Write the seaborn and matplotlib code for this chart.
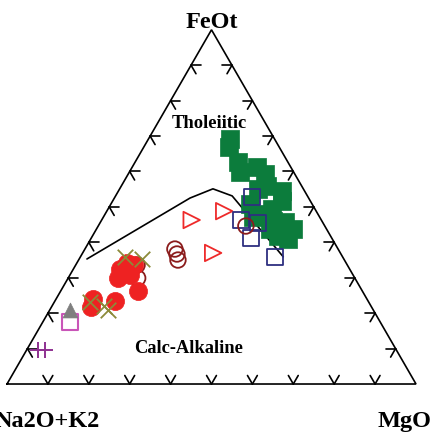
import numpy as np
import pandas as pd
import matplotlib
matplotlib.use("Agg")
import matplotlib.pyplot as plt
import seaborn as sns

# AFM compositions in percent: Na2O+K2O (A), FeOt (F), MgO (M)
green_A = [10.9, 12.3, 12.1, 13.0, 8.2, 7.2, 8.4, 5.5, 6.9, 10.5, 13.7, 16.4, 12.0, 9.2, 8.2, 10.9, 13.8, 15.2, 11.0, 12.8]
green_F = [69.3, 66.8, 62.7, 59.9, 61.3, 59.3, 55.9, 54.5, 51.7, 49.4, 48.0, 47.1, 46.0, 45.7, 43.8, 40.9, 43.8, 50.8, 55.1, 41.8]
green_M = [19.8, 20.9, 25.2, 27.1, 30.5, 33.5, 35.7, 40.0, 41.4, 40.1, 38.3, 36.5, 42.0, 45.1, 48.0, 48.2, 42.4, 34.0, 33.9, 45.4]

navy_A = [13.7, 19.7, 15.8, 19.7, 16.5]
navy_F = [52.8, 46.3, 45.5, 41.2, 35.9]
navy_M = [33.5, 34.0, 38.7, 39.1, 47.6]

tri_A = [31.7, 22.5, 31.1]
tri_F = [46.3, 48.8, 37.0]
tri_M = [22.0, 28.7, 31.9]

ring_A = [39.9, 40.1, 40.7, 19.3, 51.4, 53.1]
ring_F = [38.1, 36.7, 35.0, 44.6, 33.6, 29.9]
ring_M = [22.0, 23.2, 24.3, 36.1, 15.0, 17.0]

dot_A = [56.1, 53.6, 52.1, 58.0, 54.5, 54.8, 67.0, 68.7, 61.9]
dot_F = [32.5, 34.2, 33.6, 29.9, 30.8, 26.3, 24.0, 21.7, 23.4]
dot_M = [11.4, 12.2, 14.3, 12.1, 14.7, 18.9, 9.0, 9.6, 14.7]

cross_A = [53.1, 49.3, 68.1, 65.3, 64.8]
cross_F = [35.9, 35.3, 23.2, 22.0, 20.9]
cross_M = [11.0, 15.4, 8.7, 12.7, 14.3]

gray_A, gray_F, gray_M = [74.1], [20.9], [5.0]
pink_A, pink_F, pink_M = [75.9], [17.5], [6.6]

plus_A = [87.6, 85.9]
plus_F = [9.6, 9.6]
plus_M = [2.8, 4.5]

# Tholeiitic / calc-alkaline boundary
line_A = [62.8, 29.0, 22.1, 18.4, 14.5]
line_F = [35.3, 52.5, 55.1, 53.1, 35.9]
line_M = [1.9, 18.5, 22.8, 28.5, 49.6]

tick_values = [10, 20, 30, 40, 50, 60, 70, 80, 90]

H = np.sqrt(3) / 2


def to_xy(A, F, M):
    A, F, M = (np.asarray(v, dtype=float) for v in (A, F, M))
    tot = A + F + M
    F = 100 * F / tot
    M = 100 * M / tot
    return M + F / 2, F * H


sns.set_theme(style="white")
plt.rcParams["font.family"] = ["Liberation Serif", "DejaVu Serif"]

fig = plt.figure(figsize=(4.36, 4.39), dpi=100)
ax = fig.add_axes([0, 0, 1, 1])
ax.set_axis_off()
ax.set_xlim(-1.711, 104.89)
ax.set_ylim(-13.20, 94.13)

# Triangle frame
lw = 1.2
ax.plot([0, 100, 50, 0], [0, 0, 100 * H, 0], color="black", lw=lw,
        solid_joinstyle="miter", zorder=1)

# Chevron ticks, arms parallel to the two other sides
L = 2.4
dirs = {"bl": (-0.5 * L, -H * L), "br": (0.5 * L, -H * L),
        "ul": (-0.5 * L, H * L), "ur": (0.5 * L, H * L),
        "r": (L, 0), "l": (-L, 0)}
for t in tick_values:
    # bottom side
    x0, y0 = t, 0
    for d in ("ul", "ur"):
        ax.plot([x0, x0 + dirs[d][0]], [y0, y0 + dirs[d][1]], color="black", lw=lw, zorder=1)
    # left side
    x0, y0 = t / 2, t * H
    for d in ("r", "br"):
        ax.plot([x0, x0 + dirs[d][0]], [y0, y0 + dirs[d][1]], color="black", lw=lw, zorder=1)
    # right side
    x0, y0 = 100 - t / 2, t * H
    for d in ("l", "bl"):
        ax.plot([x0, x0 + dirs[d][0]], [y0, y0 + dirs[d][1]], color="black", lw=lw, zorder=1)

# Boundary curve
lx, ly = to_xy(line_A, line_F, line_M)
sns.lineplot(x=lx, y=ly, sort=False, color="black", lw=1.2, ax=ax, zorder=2)


def scatter(A, F, M, marker, size, color, filled=True, lw=1.3, z=3):
    x, y = to_xy(A, F, M)
    df = pd.DataFrame({"x": x, "y": y})
    if marker in ("x", "+"):
        sns.scatterplot(data=df, x="x", y="y", marker=marker, s=size, color=color,
                        linewidth=lw, ax=ax, zorder=z, legend=False)
    elif filled:
        sns.scatterplot(data=df, x="x", y="y", marker=marker, s=size, color=color,
                        edgecolor=color, linewidth=0.5, ax=ax, zorder=z, legend=False)
    else:
        sns.scatterplot(data=df, x="x", y="y", marker=marker, s=size, color=color,
                        facecolor="none", edgecolor=color, linewidth=lw, ax=ax,
                        zorder=z, legend=False)


scatter(green_A, green_F, green_M, "s", 160, "#0c7c3c", z=3)
scatter(tri_A, tri_F, tri_M, ">", 140, "#ee2a2a", filled=False, z=4)
scatter(navy_A, navy_F, navy_M, "s", 130, "#2e2f80", filled=False, z=5)
scatter(ring_A, ring_F, ring_M, "o", 125, "#8b1c1c", filled=False, z=6)
scatter(dot_A, dot_F, dot_M, "o", 170, "#ee2222", z=7)
scatter(cross_A, cross_F, cross_M, "x", 125, "#8c8a3a", lw=1.3, z=8)
scatter(pink_A, pink_F, pink_M, "s", 125, "#c955b8", filled=False, lw=1.5, z=9)
scatter(gray_A, gray_F, gray_M, "^", 115, "#7f7f7f", z=10)
scatter(plus_A, plus_F, plus_M, "+", 125, "#8e3090", lw=1.4, z=11)

# Labels
bold = dict(fontweight="bold", color="black", zorder=20)
ax.text(50.1, 87.3, "FeOt", ha="center", va="baseline", fontsize=17.5, **bold)
ax.text(97.3, -10.27, "MgO", ha="center", va="baseline", fontsize=17.5, **bold)
ax.text(22.7, -10.27, "Na2O+K2", ha="right", va="baseline", fontsize=17.5, **bold)
ax.text(49.5, 62.8, "Tholeiitic", ha="center", va="baseline", fontsize=13.3, **bold)
ax.text(44.3, 7.8, "Calc-Alkaline", ha="center", va="baseline", fontsize=13.3, **bold)

fig.savefig("out.png", dpi=100, facecolor="white")
